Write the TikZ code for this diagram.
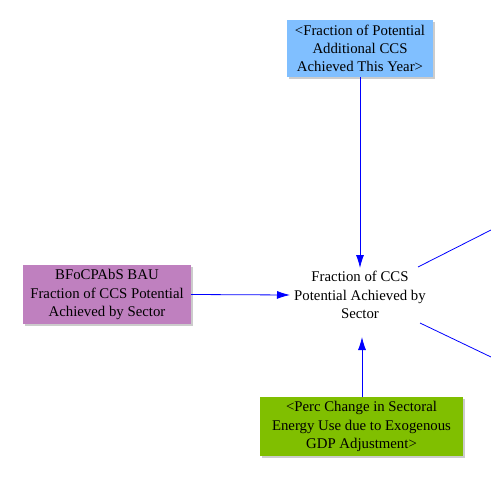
\documentclass[tikz,border=0pt]{standalone}
\usepackage{fontspec}
\setmainfont{Liberation Serif}
\usetikzlibrary{arrows.meta,shadows}
\definecolor{linkblue}{RGB}{0,0,255}
\definecolor{boxblue}{RGB}{128,191,255}
\definecolor{boxpurple}{RGB}{191,128,191}
\definecolor{boxgreen}{RGB}{128,191,0}
\tikzset{
  varbox/.style={draw=none, minimum height=#1, align=center, inner sep=0pt,
    font=\fontsize{14.8}{18.2}\selectfont,
    drop shadow={shadow xshift=2pt, shadow yshift=-2pt, fill=black!20, opacity=1}},
  plain/.style={align=center, inner sep=1pt, font=\fontsize{14.8}{18.2}\selectfont},
  link/.style={draw=linkblue, line width=0.8pt, -{Latex[length=13pt,width=8pt]}},
  linkline/.style={draw=linkblue, line width=0.8pt},
}
\begin{document}
\begin{tikzpicture}[x=1pt,y=-1pt]
\useasboundingbox (0,0) rectangle (491,479);
\node[varbox=57pt, fill=boxblue, minimum width=146pt] (top) at (360,48.5)
  {<Fraction of Potential\\Additional CCS\\Achieved This Year>};
\node[varbox=59pt, fill=boxpurple, minimum width=168pt] (left) at (107,294.5)
  {BFoCPAbS BAU\\Fraction of CCS Potential\\Achieved by Sector};
\node[varbox=59pt, fill=boxgreen, minimum width=203pt] (bot) at (361.5,426.5)
  {<Perc Change in Sectoral\\Energy Use due to Exogenous\\GDP Adjustment>};
\node[plain] (main) at (360,295) {Fraction of CCS\\Potential Achieved by\\Sector};
\coordinate (r1) at (491,230);
\coordinate (r2) at (491,357);
\draw[link] (top.south) -- (360,268);
\draw[link] (left.east) -- (290,295);
\draw[link] (362,397) -- (362,337);
\draw[linkline] (418,267) -- (r1);
\draw[linkline] (420,323) -- (r2);
\end{tikzpicture}
\end{document}
